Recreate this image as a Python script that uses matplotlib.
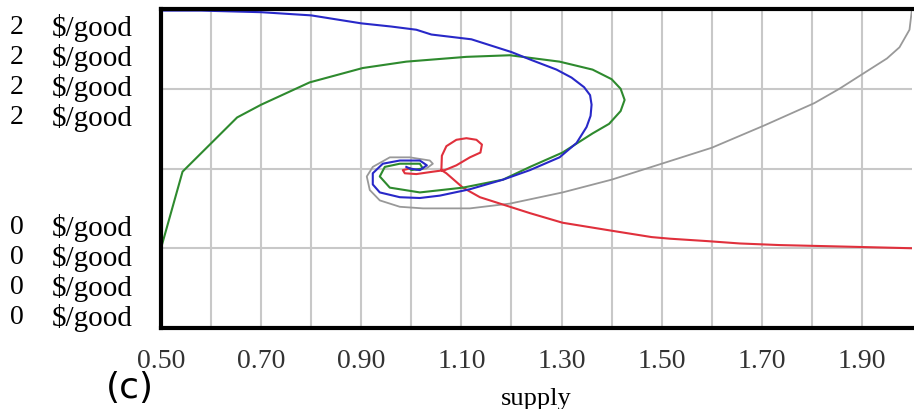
import numpy as np
import matplotlib.pyplot as plt

# phase trajectories: supply (x) against price (y)
blue_x = [0.50, 0.58, 0.70, 0.80, 0.86, 0.90, 0.96, 1.01, 1.04, 1.12, 1.20, 1.24, 1.29, 1.32, 1.345,
          1.357, 1.36, 1.358, 1.35, 1.33, 1.296, 1.237, 1.183, 1.117, 1.057, 1.017, 0.977, 0.937,
          0.923, 0.923, 0.943, 0.977, 1.017, 1.031, 1.017, 0.997, 0.99]
blue_y = [1.99, 1.99, 1.98, 1.96, 1.93, 1.91, 1.89, 1.87, 1.84, 1.81, 1.73, 1.68, 1.62, 1.57, 1.51,
          1.46, 1.40, 1.33, 1.26, 1.16, 1.07, 0.99, 0.93, 0.87, 0.83, 0.815, 0.82, 0.85,
          0.90, 0.97, 1.03, 1.05, 1.05, 1.02, 0.99, 1.00, 1.01]

green_x = [0.50, 0.543, 0.652, 0.70, 0.797, 0.903, 0.99, 1.11, 1.197, 1.296, 1.362, 1.40, 1.418,
           1.426, 1.418, 1.395, 1.362, 1.302, 1.237, 1.183, 1.103, 1.017, 0.957, 0.937, 0.947,
           0.977, 1.017, 1.023, 1.00, 0.997]
green_y = [0.50, 0.98, 1.32, 1.40, 1.54, 1.63, 1.67, 1.70, 1.71, 1.67, 1.62, 1.56, 1.50,
           1.43, 1.36, 1.28, 1.22, 1.10, 1.01, 0.93, 0.88, 0.85, 0.88, 0.95, 1.01,
           1.03, 1.03, 1.00, 0.99, 1.00]

gray_x = [2.00, 1.995, 1.975, 1.95, 1.905, 1.855, 1.805, 1.705, 1.60, 1.50, 1.40, 1.302, 1.197,
          1.117, 1.023, 0.977, 0.937, 0.917, 0.911, 0.923, 0.957, 0.997, 1.037, 1.043, 1.03, 1.01]
gray_y = [2.00, 1.87, 1.76, 1.69, 1.60, 1.50, 1.41, 1.27, 1.13, 1.03, 0.93, 0.85, 0.78,
          0.75, 0.75, 0.76, 0.80, 0.865, 0.95, 1.01, 1.07, 1.07, 1.05, 1.03, 1.00, 0.99]

red_x = [2.00, 1.87, 1.735, 1.656, 1.59, 1.516, 1.48, 1.40, 1.302, 1.237, 1.177, 1.137, 1.103,
         1.07, 1.06, 1.061, 1.07, 1.09, 1.11, 1.13, 1.141, 1.138, 1.117, 1.09, 1.067, 1.043,
         1.01, 0.987, 0.983, 0.997]
red_y = [0.50, 0.51, 0.52, 0.53, 0.545, 0.56, 0.57, 0.61, 0.66, 0.72, 0.78, 0.82, 0.88,
         0.97, 0.99, 1.08, 1.14, 1.18, 1.19, 1.18, 1.15, 1.10, 1.07, 1.02, 0.99, 0.98,
         0.965, 0.97, 0.99, 1.00]

x_ticks = [0.5, 0.7, 0.9, 1.1, 1.3, 1.5, 1.7, 1.9]
top_labels = ["2", "2", "2", "2"]
bottom_labels = ["0", "0", "0", "0"]
unit = "$/good"

W, H = 914, 409
fig = plt.figure(figsize=(W / 100, H / 100), dpi=100)
ax = fig.add_axes([161 / W, 1 - 328 / H, (912 - 161) / W, (328 - 9) / H])

ax.plot(gray_x, gray_y, color="#999999", lw=1.3)
ax.plot(red_x, red_y, color="#e0303c", lw=1.5)
ax.plot(green_x, green_y, color="#2e8a2e", lw=1.5)
ax.plot(blue_x, blue_y, color="#2828c8", lw=1.5)

ax.set_xlim(0.5, 2.0)
ax.set_ylim(0, 2)
grid_x = np.round(np.arange(0.6, 2.0, 0.1), 2)
for gx in grid_x:
    ax.axvline(gx, color="#c8c8c8", lw=1.5, zorder=0)
for gy in [0.5, 1.0, 1.5]:
    ax.axhline(gy, color="#c8c8c8", lw=1.5, zorder=0)

ax.set_xticks(x_ticks)
ax.set_xticklabels([f"{v:.2f}" for v in x_ticks], family="Liberation Serif", fontsize=20, color="#333333")
ax.set_yticks([])
ax.tick_params(axis="x", length=0, pad=15)
for side in ["left", "bottom", "top"]:
    ax.spines[side].set_linewidth(3)
ax.spines["right"].set_visible(False)

ax.set_xlabel("supply", family="Liberation Serif", fontsize=19, labelpad=10)

# stacked scale labels, one per variable
for i, lab in enumerate(top_labels):
    y = 1 - (28 + 30 * i) / H
    fig.text(17 / W, y, lab, family="Liberation Serif", fontsize=20, ha="center", va="center")
    fig.text(52 / W, y, unit, family="Liberation Serif", fontsize=21, ha="left", va="center")
for i, lab in enumerate(bottom_labels):
    y = 1 - (228 + 30 * i) / H
    fig.text(17 / W, y, lab, family="Liberation Serif", fontsize=20, ha="center", va="center")
    fig.text(52 / W, y, unit, family="Liberation Serif", fontsize=21, ha="left", va="center")

fig.text(130 / W, 1 - 388 / H, "(c)", family="DejaVu Sans", fontsize=26, ha="center", va="center")

fig.savefig("out.png", dpi=100)
